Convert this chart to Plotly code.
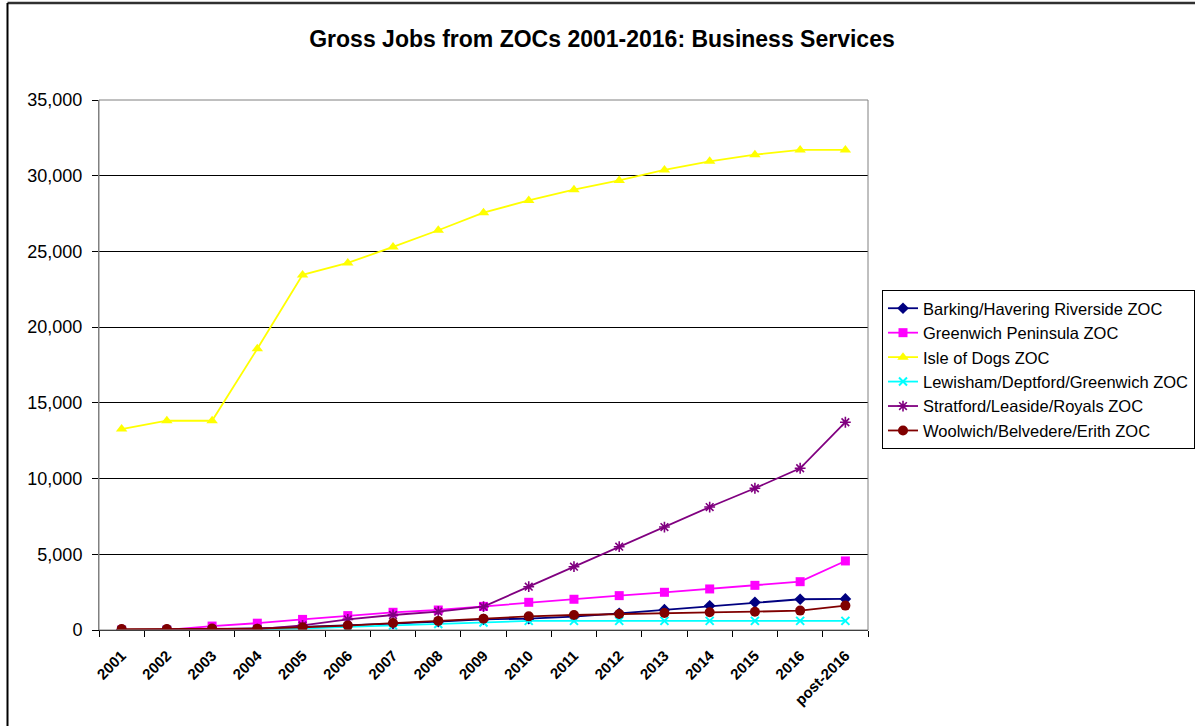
import plotly.graph_objects as go

# Categories and series (gross jobs, business services)
years = ["2001", "2002", "2003", "2004", "2005", "2006", "2007", "2008", "2009",
         "2010", "2011", "2012", "2013", "2014", "2015", "2016", "post-2016"]

barking = [0, 0, 50, 100, 200, 300, 420, 550, 700, 750, 880, 1100, 1340, 1600, 1830, 2030, 2050]
greenwich = [0, 0, 260, 450, 700, 950, 1170, 1320, 1560, 1830, 2030, 2270, 2490, 2710, 2950, 3190, 4560]
isle_of_dogs = [13270, 13820, 13820, 18570, 23450, 24240, 25300, 26400, 27560, 28370, 29080,
                29690, 30380, 30950, 31390, 31700, 31700]
lewisham = [0, 0, 0, 50, 100, 200, 300, 400, 500, 600, 600, 600, 600, 600, 600, 600, 600]
stratford = [0, 0, 30, 60, 300, 700, 990, 1210, 1540, 2860, 4180, 5500, 6800, 8120, 9360, 10680, 13720]
woolwich = [60, 60, 100, 90, 180, 290, 460, 600, 750, 900, 990, 1060, 1120, 1170, 1210, 1280, 1610]

series = [
    ("Barking/Havering Riverside ZOC", barking, "#000080", "diamond", 9, None),
    ("Greenwich Peninsula ZOC", greenwich, "#FF00FF", "square", 9, None),
    ("Isle of Dogs ZOC", isle_of_dogs, "#FFFF00", "triangle-up", 10, None),
    ("Lewisham/Deptford/Greenwich ZOC", lewisham, "#00FFFF", "x-thin", 8, 2),
    ("Stratford/Leaside/Royals ZOC", stratford, "#800080", "asterisk", 9, 1.6),
    ("Woolwich/Belvedere/Erith ZOC", woolwich, "#800000", "circle", 10, None),
]

FONT = "Arial, Liberation Sans, sans-serif"

fig = go.Figure()
for name, vals, color, symbol, size, mlw in series:
    marker = dict(symbol=symbol, size=size, color=color)
    if mlw is not None:
        marker["line"] = dict(color=color, width=mlw)
    else:
        marker["line"] = dict(width=0)
    fig.add_trace(go.Scatter(
        x=years, y=vals, name=name, mode="lines+markers",
        line=dict(color=color, width=1.8),
        marker=marker, legendgroup=name,
    ))

W, H = 1195, 726
L, R, T, B = 99, 868, 100, 630  # plot area edges in pixels
pw, ph = R - L, B - T


def px_x(p):
    return (p - L) / pw


def px_y(p):
    return (B - p) / ph


fig.update_layout(
    width=W, height=H,
    margin=dict(l=L, r=W - R, t=T, b=H - B, pad=0, autoexpand=False),
    paper_bgcolor="white", plot_bgcolor="white",
    font=dict(family=FONT, color="black", size=16),
    title=dict(
        text="<b>Gross Jobs from ZOCs 2001-2016: Business Services</b>",
        x=602 / W, xref="container", xanchor="center",
        y=1 - 39 / H, yref="container", yanchor="middle",
        font=dict(size=23, family=FONT, color="black"),
    ),
    xaxis=dict(
        type="category", range=[-0.5, 16.5],
        tickangle=-45, tickfont=dict(size=15, family=FONT, color="black", weight="bold"),
        ticks="outside", ticklen=6, tickcolor="black", tickson="boundaries",
        ticklabelstandoff=10,
        showline=True, linecolor="black", linewidth=1,
        showgrid=False, zeroline=False,
    ),
    yaxis=dict(
        range=[0, 35000], dtick=5000, tickformat=",",
        tickfont=dict(size=18, family=FONT, color="black"),
        ticks="outside", ticklen=6, tickcolor="black", ticklabelstandoff=6,
        showgrid=True, gridcolor="black", gridwidth=1,
        showline=True, linecolor="#808080", linewidth=1,
        zeroline=False,
    ),
    legend=dict(
        x=px_x(882), y=px_y(290), xanchor="left", yanchor="top",
        xref="paper", yref="paper",
        bordercolor="black", borderwidth=1, bgcolor="white",
        font=dict(size=16.5, family=FONT, color="black"),
        traceorder="grouped", tracegroupgap=0,
        itemwidth=30,
    ),
    shapes=[
        # plot-area frame
        dict(type="rect", xref="paper", yref="paper", x0=0, x1=1, y0=0, y1=1,
             line=dict(color="#808080", width=1), layer="above"),
        # chart frame: top and left edges
        dict(type="line", xref="paper", yref="paper",
             x0=px_x(7.5), x1=px_x(1230), y0=px_y(3), y1=px_y(3),
             line=dict(color="#303030", width=2.5)),
        dict(type="line", xref="paper", yref="paper",
             x0=px_x(7.5), x1=px_x(7.5), y0=px_y(3), y1=px_y(760),
             line=dict(color="#000000", width=2)),
    ],
    showlegend=True,
)

fig.write_html("out.html")
